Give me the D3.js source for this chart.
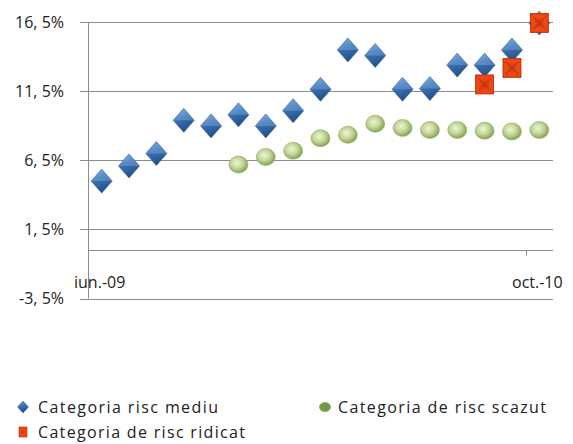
<!DOCTYPE html>
<html>
<head>
<meta charset="utf-8">
<script src="https://cdn.jsdelivr.net/npm/d3@7"></script>
<style>
  html, body { margin: 0; padding: 0; background: #fff; }
  svg { display: block; }
  text { font-family: "Open Sans", "Liberation Sans", sans-serif; fill: #222; }
</style>
</head>
<body>
<svg id="chart" width="573" height="444"></svg>
<script>
// ---- data ----
const categories = ["iun.-09","iul.-09","aug.-09","sep.-09","oct.-09","noi.-09","dec.-09",
  "ian.-10","feb.-10","mar.-10","apr.-10","mai.-10","iun.-10","iul.-10","aug.-10","sep.-10","oct.-10"];
const shownLabels = ["iun.-09", "oct.-10"];
const riscMediu   = [5.0, 6.1, 7.0, 9.4, 9.0, 9.8, 9.0, 10.1, 11.65, 14.5, 14.1, 11.65, 11.7, 13.4, 13.4, 14.5, 16.45];
const riscScazut  = [null, null, null, null, null, 6.2, 6.75, 7.2, 8.1, 8.35, 9.15, 8.85, 8.7, 8.7, 8.65, 8.6, 8.7];
const riscRidicat = [null, null, null, null, null, null, null, null, null, null, null, null, null, null, 12.0, 13.2, 16.45];
const yTicks = [-3.5, 1.5, 6.5, 11.5, 16.5];
const yTickLabels = ["-3, 5%", "1, 5%", "6, 5%", "11, 5%", "16, 5%"];
const seriesNames = ["Categoria risc mediu", "Categoria de risc scazut", "Categoria de risc ridicat"];

const svg = d3.select("#chart");
const defs = svg.append("defs");

// gradients
const gB = defs.append("linearGradient").attr("id","gBlue").attr("x1","0").attr("y1","0").attr("x2","0.3").attr("y2","1");
gB.append("stop").attr("offset","0").attr("stop-color","#7aa8dc");
gB.append("stop").attr("offset","0.45").attr("stop-color","#3e74b6");
gB.append("stop").attr("offset","1").attr("stop-color","#23508a");
const gG = defs.append("radialGradient").attr("id","gGreen").attr("cx","0.42").attr("cy","0.4").attr("r","0.6");
gG.append("stop").attr("offset","0").attr("stop-color","#eef5d6");
gG.append("stop").attr("offset","0.55").attr("stop-color","#c2d596");
gG.append("stop").attr("offset","1").attr("stop-color","#86a055");
const gR = defs.append("radialGradient").attr("id","gRed").attr("cx","0.5").attr("cy","0.5").attr("r","0.7");
gR.append("stop").attr("offset","0").attr("stop-color","#c83a12");
gR.append("stop").attr("offset","0.5").attr("stop-color","#f04a14");
gR.append("stop").attr("offset","1").attr("stop-color","#e83c0c");

// ---- scales ----
const left = 88, right = 553;
const x = d3.scaleBand().domain(categories).range([left, right]).padding(0);
const y = d3.scaleLinear().domain([-3.5, 16.5]).range([298.5, 22.3]);

// gridlines
svg.append("g").selectAll("line").data(yTicks).join("line")
  .attr("x1", left - 8).attr("x2", right)
  .attr("y1", d => Math.round(y(d)) + 0.5).attr("y2", d => Math.round(y(d)) + 0.5)
  .attr("stroke", "#8c8c8c").attr("stroke-width", 1);

// y tick labels
svg.append("g").selectAll("text").data(yTicks).join("text")
  .attr("x", 64).attr("y", d => y(d))
  .attr("dy", "0.35em")
  .attr("text-anchor", "end")
  .attr("font-size", "16px")
  .text((d, i) => yTickLabels[i]);

// vertical axis
svg.append("line").attr("x1", left + 0.5).attr("x2", left + 0.5)
  .attr("y1", y(16.5)).attr("y2", y(-3.5))
  .attr("stroke", "#8c8c8c");

// horizontal axis at 0
const y0 = Math.round(y(0)) + 0.5;
svg.append("line").attr("x1", left).attr("x2", right)
  .attr("y1", y0).attr("y2", y0).attr("stroke", "#8c8c8c");
// tick marks every 16 categories
svg.append("g").selectAll("line").data([categories[0], categories[16]]).join("line")
  .attr("x1", d => Math.round(x(d)) + 0.5).attr("x2", d => Math.round(x(d)) + 0.5)
  .attr("y1", y0).attr("y2", y0 + 5).attr("stroke", "#8c8c8c");

// x labels (low position)
svg.append("g").selectAll("text").data(shownLabels).join("text")
  .attr("x", d => x(d) + x.bandwidth() / 2 - 2)
  .attr("y", 288)
  .attr("text-anchor", "middle")
  .attr("font-size", "16px")
  .text(d => d);

const cx = i => x(categories[i]) + x.bandwidth() / 2;

// diamonds
const diamond = (w, h) => `M0,${-h/2} L${w/2},0 L0,${h/2} L${-w/2},0 Z`;
svg.append("g").selectAll("g").data(riscMediu.map((v,i)=>({v,i})).filter(d=>d.v!=null)).join("g")
  .attr("transform", d => `translate(${cx(d.i)},${y(d.v)})`)
  .each(function() {
    const g = d3.select(this);
    g.append("path").attr("d", diamond(21, 24)).attr("fill", "url(#gBlue)")
      .attr("stroke", "#2d5a90").attr("stroke-width", 0.6);
    g.append("path").attr("d", "M-10.5,0 L0,-12 L10.5,0 Z").attr("fill", "#8cb6e6").attr("opacity", 0.35);
  });

// green circles
svg.append("g").selectAll("ellipse").data(riscScazut.map((v,i)=>({v,i})).filter(d=>d.v!=null)).join("ellipse")
  .attr("cx", d => cx(d.i)).attr("cy", d => y(d.v))
  .attr("rx", 9.5).attr("ry", 8.5)
  .attr("fill", "url(#gGreen)").attr("stroke", "#93ab66").attr("stroke-width", 0.6);

// red squares
svg.append("g").selectAll("g").data(riscRidicat.map((v,i)=>({v,i})).filter(d=>d.v!=null)).join("g")
  .attr("transform", d => `translate(${cx(d.i)},${y(d.v)})`)
  .each(function() {
    const g = d3.select(this);
    g.append("rect").attr("x", -9).attr("y", -9.5).attr("width", 18).attr("height", 19)
      .attr("fill", "url(#gRed)").attr("stroke", "#b52c08").attr("stroke-width", 0.8);
    g.append("path").attr("d", "M-6,-6 L6,6 M6,-6 L-6,6").attr("stroke", "#a8300c").attr("stroke-width", 1.5).attr("opacity", 0.5);
  });

// ---- legend ----
const leg = svg.append("g");
leg.append("path").attr("d", diamond(11, 12)).attr("transform", "translate(23,407)")
  .attr("fill", "url(#gBlue)").attr("stroke", "#2d5a90").attr("stroke-width", 0.5);
leg.append("ellipse").attr("cx", 325).attr("cy", 407).attr("rx", 5.5).attr("ry", 4.5)
  .attr("fill", "#6f9a45").attr("stroke", "#8fb066");
leg.append("rect").attr("x", 19).attr("y", 427).attr("width", 8).attr("height", 10)
  .attr("fill", "url(#gRed)").attr("stroke", "#b52c08").attr("stroke-width", 0.6);

const legItems = [
  {t: seriesNames[0], x: 38, y: 407, w: 180},
  {t: seriesNames[1], x: 338, y: 407, w: 208},
  {t: seriesNames[2], x: 38, y: 432, w: 207}
];
leg.selectAll("text").data(legItems).join("text")
  .attr("x", d => d.x).attr("y", d => d.y).attr("dy", "0.35em")
  .attr("font-size", "16px")
  .attr("textLength", d => d.w).attr("lengthAdjust", "spacing")
  .text(d => d.t);
</script>
</body>
</html>
